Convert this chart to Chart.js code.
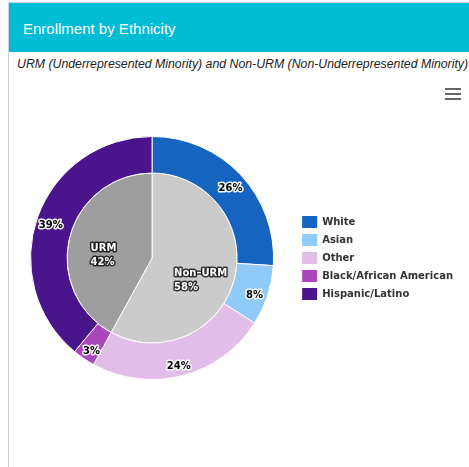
<!DOCTYPE html>
<html>
<head>
<meta charset="utf-8">
<script src="https://cdn.jsdelivr.net/npm/chart.js@4"></script>
<style>
    body { margin: 0; background: #fff; overflow: hidden; font-family: "Liberation Sans", Arial, sans-serif; }
    .panel { position: absolute; left: 8px; top: 2px; width: 470px; height: 470px; border-left: 1px solid #c9d0da; border-top: 1px solid #d4d4d4; }
    .panel-head { position: absolute; left: 0; top: 0; right: 0; height: 49px; background: #00bcd4; color: #fff; font-size: 15px; line-height: 51px; padding-left: 14px; }
    .panel-sub { position: absolute; left: 8px; top: 54px; white-space: nowrap; font-size: 12.3px; font-style: italic; color: #222; }
    .menu { position: absolute; left: 445px; top: 88px; width: 16px; }
    .menu span { display: block; height: 2px; margin-bottom: 3px; background: #666; }
    .chart-box { position: absolute; left: 8px; top: 75px; width: 461px; height: 392px; }
</style>
</head>
<body>
<div class="panel">
    <div class="panel-head">Enrollment by Ethnicity</div>
    <div class="panel-sub">URM (Underrepresented Minority) and Non-URM (Non-Underrepresented Minority)</div>
</div>
<div class="menu"><span></span><span></span><span></span></div>
<div class="chart-box"><canvas id="ethnicityChart"></canvas></div>

<script>
// outer ring: ethnicity share (%)
const groups = ['White', 'Asian', 'Other', 'Black/African American', 'Hispanic/Latino'];
const groupPct = [26, 8, 24, 3, 39];
const groupColors = ['#1565c0', '#90caf9', '#e1bee7', '#ab47bc', '#4a148c'];

// inner pie: URM split (%)
const urmLabels = ['Non–URM', 'URM'];
const urmPct = [58, 42];
const urmColors = ['#cbcbcb', '#9e9e9e'];

const labelFont = 'bold 10px "DejaVu Sans"';

// percentage labels drawn on the arcs, with a halo like the old highcharts look
const sliceLabels = {
    id: 'sliceLabels',
    afterDatasetsDraw(chart) {
        const ctx = chart.ctx;
        ctx.save();
        ctx.font = labelFont;
        ctx.textBaseline = 'middle';
        ctx.lineJoin = 'round';
        chart.data.datasets.forEach((ds, di) => {
            const meta = chart.getDatasetMeta(di);
            const inner = di === 1;
            meta.data.forEach((arc, i) => {
                const mid = (arc.startAngle + arc.endAngle) / 2;
                const r = inner ? arc.outerRadius * 0.59
                                : arc.innerRadius + (arc.outerRadius - arc.innerRadius) * 0.62;
                const cx = arc.x + Math.cos(mid) * r;
                const cy = arc.y + Math.sin(mid) * r + (inner ? 10 : 4);
                const lines = inner ? [urmLabels[i], ds.data[i] + '%'] : [ds.data[i] + '%'];
                const w = Math.max(...lines.map(l => ctx.measureText(l).width));
                const lh = 14;
                lines.forEach((txt, k) => {
                    const x = cx - w / 2;
                    const y = cy + (k - (lines.length - 1) / 2) * lh;
                    ctx.textAlign = 'left';
                    ctx.strokeStyle = inner ? 'rgba(0,0,0,0.75)' : 'rgba(255,255,255,0.95)';
                    ctx.lineWidth = 3;
                    ctx.strokeText(txt, x, y);
                    ctx.fillStyle = inner ? '#fff' : '#000';
                    ctx.fillText(txt, x, y);
                });
            });
        });
        ctx.restore();
    }
};

new Chart(document.getElementById('ethnicityChart'), {
    type: 'doughnut',
    data: {
        labels: groups,
        datasets: [
            { data: groupPct, backgroundColor: groupColors, borderColor: '#fff', borderWidth: 1, weight: 36.5 },
            { data: urmPct, backgroundColor: urmColors, borderColor: '#fff', borderWidth: 1, weight: 85 }
        ]
    },
    options: {
        responsive: true,
        maintainAspectRatio: false,
        animation: false,
        cutout: 0,
        layout: { padding: { left: 0, right: 6, top: 61, bottom: 87 } },
        plugins: {
            tooltip: { enabled: false },
            legend: {
                position: 'right',
                labels: {
                    boxWidth: 15,
                    boxHeight: 12,
                    padding: 6,
                    color: '#333',
                    font: { family: 'DejaVu Sans', size: 10, weight: 'bold' },
                    generateLabels: () => groups.map((g, i) => ({
                        text: g, fillStyle: groupColors[i], strokeStyle: groupColors[i],
                        lineWidth: 0, hidden: false, index: i, fontColor: '#333'
                    }))
                }
            }
        }
    },
    plugins: [sliceLabels]
});
</script>
</body>
</html>
